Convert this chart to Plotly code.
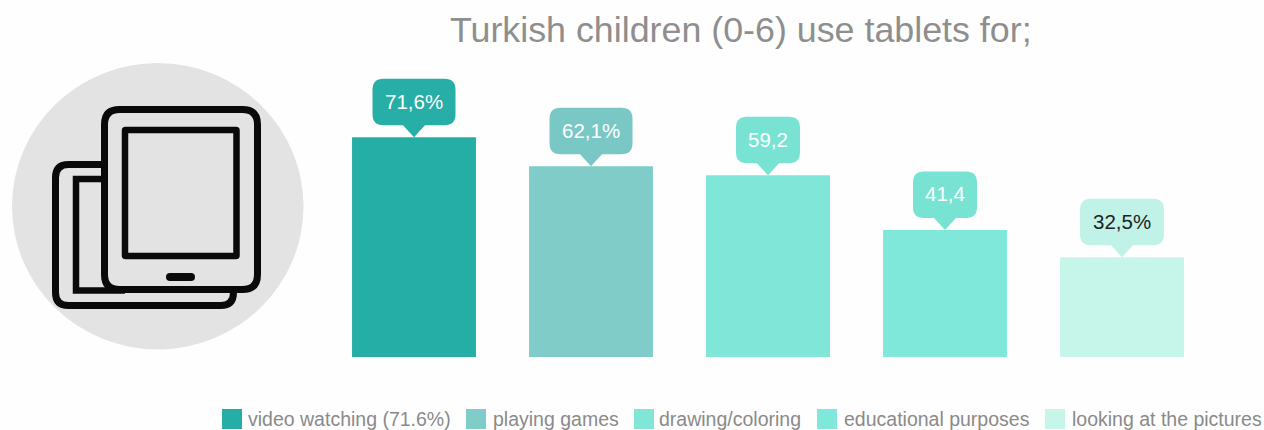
import plotly.graph_objects as go

# Chart data
categories = ["video watching (71.6%)", "playing games", "drawing/coloring",
              "educational purposes", "looking at the pictures"]
values = [71.6, 62.1, 59.2, 41.4, 32.5]
value_labels = ["71,6%", "62,1%", "59,2", "41,4", "32,5%"]

# Styling
bar_colors = ["#25AEA6", "#7FCCC9", "#7FE6D8", "#80E8DA", "#C6F5EA"]
callout_colors = ["#27AEA7", "#79C8C6", "#78E3D3", "#78E3D3", "#C1F2E7"]
label_colors = ["#FFFFFF", "#FFFFFF", "#FFFFFF", "#FFFFFF", "#222222"]
callout_half_widths = [41.5, 41.5, 32, 32, 42]
legend_swatch_x = [222, 466, 634, 817, 1045]
legend_text_x = [246, 491, 657, 842, 1070]

W, H = 1264, 430
FONT = "Liberation Sans, Arial, sans-serif"
ICON_BG = "#E3E3E3"
INK = "#0A0A0A"


def px(x):
    return x / W


def py(y):
    return 1 - y / H


def paper_rounded(x0, y0, x1, y1, r):
    """Rounded rectangle path in paper coordinates, from figure pixels."""
    pts = [
        ("M", x0 + r, y0), ("L", x1 - r, y0), ("Q", x1, y0, x1, y0 + r),
        ("L", x1, y1 - r), ("Q", x1, y1, x1 - r, y1), ("L", x0 + r, y1),
        ("Q", x0, y1, x0, y1 - r), ("L", x0, y0 + r), ("Q", x0, y0, x0 + r, y0),
    ]
    out = []
    for p in pts:
        if p[0] == "Q":
            out.append(f"Q{px(p[1])},{py(p[2])} {px(p[3])},{py(p[4])}")
        else:
            out.append(f"{p[0]}{px(p[1])},{py(p[2])}")
    return " ".join(out) + " Z"


def icon_shape(path, fill=None, line=None, width=0):
    return dict(type="path", xref="paper", yref="paper", path=path,
                fillcolor=fill if fill else "rgba(0,0,0,0)",
                line=dict(color=line if line else "rgba(0,0,0,0)", width=width),
                layer="above")


def callout_path(half_w):
    """Speech bubble above a bar top; pixel offsets from the anchor, y upward."""
    r, bottom, top, tip = 11, 12, 58.5, 6
    return (
        f"M0,0 L{tip + 5},{bottom} L{half_w - r},{bottom} "
        f"Q{half_w},{bottom} {half_w},{bottom + r} L{half_w},{top - r} "
        f"Q{half_w},{top} {half_w - r},{top} L{-half_w + r},{top} "
        f"Q{-half_w},{top} {-half_w},{top - r} L{-half_w},{bottom + r} "
        f"Q{-half_w},{bottom} {-half_w + r},{bottom} L{-tip - 5},{bottom} Z"
    )


shapes = []
annotations = []

# Tablet pictogram on a grey disc
shapes.append(dict(type="circle", xref="paper", yref="paper",
                   x0=px(12), x1=px(303.5), y0=py(63), y1=py(349.5),
                   fillcolor=ICON_BG, line=dict(width=0), layer="below"))
shapes.append(icon_shape(paper_rounded(55.5, 164.5, 233.5, 305.5, 13), ICON_BG, INK, 7))
shapes.append(icon_shape(
    f"M{px(125)},{py(179)} L{px(76)},{py(179)} L{px(76)},{py(290.5)} L{px(125)},{py(290.5)}",
    None, INK, 6.5))
shapes.append(icon_shape(paper_rounded(104.5, 109.5, 257.5, 289.5, 15), ICON_BG, INK, 7))
shapes.append(icon_shape(paper_rounded(125, 130, 236.5, 256, 0.5), ICON_BG, INK, 6.5))
shapes.append(icon_shape(paper_rounded(166, 273, 195, 281, 4), INK))

# Value callouts anchored to the bar tops
for i, (v, lab) in enumerate(zip(values, value_labels)):
    shapes.append(dict(type="path", xref="x", yref="y", xsizemode="pixel", ysizemode="pixel",
                       xanchor=i, yanchor=v, path=callout_path(callout_half_widths[i]),
                       fillcolor=callout_colors[i], line=dict(width=0), layer="above"))
    annotations.append(dict(x=i, y=v, xref="x", yref="y", text=lab, showarrow=False,
                            yshift=36, yanchor="middle", xanchor="center",
                            font=dict(family=FONT, size=20.5, color=label_colors[i])))

# Legend row
for name, color, sx, tx in zip(categories, bar_colors, legend_swatch_x, legend_text_x):
    shapes.append(dict(type="rect", xref="paper", yref="paper",
                       x0=px(sx), x1=px(sx + 20), y0=py(409), y1=py(429),
                       fillcolor=color, line=dict(width=0)))
    annotations.append(dict(x=px(tx), y=py(419), xref="paper", yref="paper", text=name,
                            showarrow=False, xanchor="left", yanchor="middle",
                            font=dict(family=FONT, size=19.5, color="#8A8A8A")))

# Heading
annotations.append(dict(x=px(741), y=py(30), xref="paper", yref="paper",
                        text="Turkish children (0-6) use tablets for;", showarrow=False,
                        xanchor="center", yanchor="middle",
                        font=dict(family=FONT, size=35.8, color="#8E8E8E")))

fig = go.Figure(go.Bar(x=list(range(len(values))), y=values, width=0.7,
                       marker=dict(color=bar_colors, line=dict(width=0)),
                       hoverinfo="skip"))
fig.update_layout(
    width=W, height=H, margin=dict(l=0, r=0, t=0, b=0),
    paper_bgcolor="#FEFEFE", plot_bgcolor="rgba(0,0,0,0)",
    showlegend=False, shapes=shapes, annotations=annotations,
    xaxis=dict(domain=[325.5 / W, 1210.5 / W], range=[-0.5, 4.5], visible=False),
    yaxis=dict(domain=[73 / H, 380 / H], range=[0, 100], visible=False),
)
fig.write_html("out.html", config=dict(displayModeBar=False))
